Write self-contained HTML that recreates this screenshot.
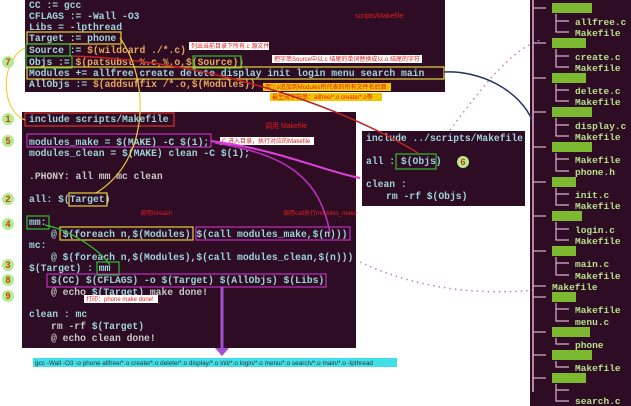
<!DOCTYPE html>
<html><head><meta charset="utf-8"><style>
body{margin:0;background:#fff;width:631px;height:406px;overflow:hidden}
svg{display:block}
.c{font-family:"Liberation Mono",monospace;font-size:9.7px;fill:#9fd3dc;font-weight:bold}
.o{fill:#e8a85a}
.g{fill:#c8c8c8}
.t{font-family:"Liberation Mono",monospace;font-size:9.5px;fill:#b8e08a;font-weight:bold}
.r{font-family:"Liberation Sans","Noto Sans CJK SC",sans-serif;font-size:6px;fill:#e02020}
.n{font-family:"Liberation Sans",sans-serif;font-size:9px;font-weight:bold;fill:#c04010;text-anchor:middle}
</style></head><body>
<svg width="631" height="406" viewBox="0 0 631 406">
<rect x="25" y="0" width="420" height="92" fill="#2e0c24"/>
<rect x="22" y="112" width="334" height="236" fill="#2e0c24"/>
<rect x="362" y="131" width="163" height="75" fill="#2e0c24"/>
<rect x="530" y="0" width="101" height="406" fill="#2e0c24"/>
<g class="c">
<text x="29" y="8">CC := gcc</text>
<text x="29" y="19">CFLAGS := -Wall -O3</text>
<text x="29" y="30">Libs = -lpthread</text>
<text x="29" y="41">Target := phone</text>
<text x="29" y="53">Source := <tspan class="o">$(wildcard ./*.c)</tspan></text>
<text x="29" y="65">Objs := <tspan class="o">$(patsubst %.c,%.o,$(Source))</tspan></text>
<text x="29" y="76">Modules += allfree create delete display init login menu  search   main</text>
<text x="29" y="87">AllObjs := <tspan class="o">$(addsuffix /*.o,$(Modules))</tspan></text>
</g>
<text x="355" y="18" class="r" style="font-size:7px">scripts/Makefile</text>
<rect x="189" y="42" width="80" height="8" fill="#fff"/><text x="191" y="48" class="r">列出当前目录下所有.c 源文件</text>
<rect x="272" y="55" width="150" height="8" fill="#fff"/><text x="274" y="61" class="r">把字串Source中以.c 结尾的单词替换成以.o 结尾的字符</text>
<rect x="263" y="83" width="128" height="8" fill="#f5c400"/><text x="265" y="89" class="r">用"/.o追加到Modules所代表的所有文件名后面</text>
<rect x="270" y="93" width="112" height="8" fill="#f5c400"/><text x="272" y="99" class="r">最生成字符串：allfree/*.o create/*.o等</text>
<rect x="27" y="32" width="94" height="12" fill="none" stroke="#e8d040" stroke-width="1.2"/>
<rect x="26" y="44" width="44" height="12" fill="none" stroke="#30c030" stroke-width="1.2"/>
<rect x="26" y="56" width="46" height="12" fill="none" stroke="#30c030" stroke-width="1.2"/>
<rect x="193" y="56" width="48" height="12" fill="none" stroke="#30c030" stroke-width="1.2"/>
<rect x="27" y="67" width="417" height="12" fill="none" stroke="#e8d040" stroke-width="1.2"/>
<g class="c">
<text x="29" y="122">include scripts/Makefile</text>
<text x="29" y="145">modules_make = $(MAKE) -C $(1);</text>
<text x="29" y="156">modules_clean = $(MAKE) clean -C $(1);</text>
<text x="29" y="179" class="g">.PHONY: all mm mc clean</text>
<text x="29" y="202">all: $(Target)</text>
<text x="29" y="225">mm:</text>
<text x="51" y="237">@ $(foreach n,$(Modules) $(call modules_make,$(n)))</text>
<text x="29" y="248">mc:</text>
<text x="51" y="260">@ $(foreach n,$(Modules),$(call modules_clean,$(n)))</text>
<text x="29" y="271">$(Target) : mm</text>
<text x="51" y="283">$(CC) $(CFLAGS) -o $(Target) $(AllObjs) $(Libs)</text>
<text x="51" y="295" class="g">@ echo <tspan fill="#9fd3dc">$(Target)</tspan> make done!</text>
<text x="29" y="317">clean : mc</text>
<text x="51" y="329" class="g">rm -rf <tspan fill="#9fd3dc">$(Target)</tspan></text>
<text x="51" y="341" class="g">@ echo clean done!</text>
</g>
<text x="265" y="128" class="r" style="font-size:7px">调用 Makefile</text>
<rect x="220" y="137" width="94" height="8" fill="#fff"/><text x="222" y="143" class="r">C 进入目录，执行对应的Makefile</text>
<text x="140" y="215" class="r">调用foreach</text><text x="283" y="215" class="r">调用call执行modules_make</text>
<rect x="84" y="295" width="74" height="8" fill="#fff"/><text x="86" y="301" class="r">打印：phone make done!</text>
<rect x="25" y="113" width="149" height="13" fill="none" stroke="#e03030" stroke-width="1.2"/>
<rect x="27" y="134" width="184" height="13" fill="none" stroke="#c030c0" stroke-width="1.2"/>
<rect x="69" y="193" width="38" height="13" fill="none" stroke="#e8d040" stroke-width="1.2"/>
<rect x="27" y="216" width="22" height="13" fill="none" stroke="#30c030" stroke-width="1.2"/>
<rect x="60" y="227" width="133" height="13" fill="none" stroke="#e8d040" stroke-width="1.2"/>
<rect x="196" y="227" width="154" height="13" fill="none" stroke="#c030c0" stroke-width="1.2"/>
<rect x="97" y="262" width="22" height="13" fill="none" stroke="#30c030" stroke-width="1.2"/>
<rect x="47" y="274" width="279" height="13" fill="none" stroke="#c030c0" stroke-width="1.2"/>
<g class="c">
<text x="366" y="141">include ../scripts/Makefile</text>
<text x="366" y="164">all : $(Objs)</text>
<text x="366" y="187">clean :</text>
<text x="386" y="199">rm -rf $(Objs)</text>
</g>
<rect x="396" y="154" width="40" height="15" fill="none" stroke="#30c030" stroke-width="1.2"/>
<rect x="33" y="358" width="364" height="9" fill="#40e0e8"/>
<text x="35" y="365" style="font-family:'Liberation Sans',sans-serif;font-size:6.4px;fill:#333">gcc -Wall -O3 -o phone allfree/*.o create/*.o delete/*.o display/*.o init/*.o login/*.o menu/*.o search/*.o main/*.o -lpthread</text>
<path d="M222 287 L222 350" stroke="#a050d0" stroke-width="3"/>
<path d="M215 348 L229 348 L222 356Z" fill="#a050d0"/>
<path d="M211 141 C280 150 320 170 360 178" stroke="#e040e0" stroke-width="2" fill="none"/>
<path d="M330 233 C320 180 290 155 215 143" stroke="#c030c0" stroke-width="1.5" fill="none"/>
<path d="M72 56 C200 60 330 100 418 153" stroke="#c02020" stroke-width="1.5" fill="none"/>
<path d="M120 38 C150 80 150 160 96 193" stroke="#e8d040" stroke-width="1.2" fill="none"/>
<path d="M25 48 C0 60 0 110 25 120" stroke="#e8d040" stroke-width="1.2" fill="none"/>
<path d="M45 225 C70 230 100 250 110 265" stroke="#30c030" stroke-width="1.2" fill="none"/>
<path d="M444 72 C480 70 520 90 533 122" stroke="#203060" stroke-width="1.5" fill="none"/>
<path d="M450 130 C480 90 510 50 540 40" stroke="#c080c0" stroke-width="1.5" stroke-dasharray="1.5 4" fill="none"/>
<path d="M360 262 C420 290 480 295 535 290" stroke="#c080c0" stroke-width="1.5" stroke-dasharray="1.5 4" fill="none"/>
<g>
<circle cx="8" cy="62" r="6" fill="#b8e890"/><text x="8" y="65" class="n">7</text>
<circle cx="8" cy="119" r="6" fill="#b8e890"/><text x="8" y="122" class="n">1</text>
<circle cx="8" cy="141" r="6" fill="#b8e890"/><text x="8" y="144" class="n">5</text>
<circle cx="8" cy="199" r="6" fill="#b8e890"/><text x="8" y="202" class="n">2</text>
<circle cx="8" cy="224" r="6" fill="#b8e890"/><text x="8" y="227" class="n">4</text>
<circle cx="8" cy="265" r="6" fill="#b8e890"/><text x="8" y="268" class="n">3</text>
<circle cx="8" cy="280" r="6" fill="#b8e890"/><text x="8" y="283" class="n">8</text>
<circle cx="8" cy="296" r="6" fill="#b8e890"/><text x="8" y="299" class="n">9</text>
<circle cx="463" cy="162" r="6" fill="#b8e890"/><text x="463" y="165" class="n">6</text>
</g>
<line x1="533" y1="0" x2="533" y2="392" stroke="#e0b0d0" stroke-width="1.5"/>
<g stroke="#e0b0d0" stroke-width="1.2" fill="none">
<line x1="533" y1="8" x2="546" y2="8"/><line x1="533" y1="43" x2="546" y2="43"/><line x1="533" y1="78" x2="546" y2="78"/><line x1="533" y1="112" x2="546" y2="112"/><line x1="533" y1="147" x2="546" y2="147"/><line x1="533" y1="182" x2="546" y2="182"/><line x1="533" y1="216" x2="546" y2="216"/><line x1="533" y1="251" x2="546" y2="251"/><line x1="533" y1="286" x2="546" y2="286"/><line x1="533" y1="297" x2="546" y2="297"/><line x1="533" y1="332" x2="546" y2="332"/><line x1="533" y1="355" x2="546" y2="355"/><line x1="533" y1="378" x2="546" y2="378"/>
<path d="M556 14V32H569M556 21H569"/><path d="M556 49V67H569M556 56H569"/><path d="M556 84V101H569M556 90H569"/><path d="M556 118V136H569M556 125H569"/><path d="M556 153V171H569M556 159H569"/><path d="M556 188V205H569M556 194H569"/><path d="M556 222V240H569M556 229H569"/><path d="M556 257V275H569M556 263H569"/><path d="M556 303V321H569M556 309H569"/><path d="M556 338V344H569"/><path d="M556 361V367H569"/><path d="M556 384V401H569M556 390H569"/>
</g>
<g fill="#7cb830">
<rect x="552" y="3" width="40" height="10"/><rect x="552" y="38" width="34" height="10"/><rect x="552" y="73" width="34" height="10"/><rect x="552" y="107" width="40" height="10"/><rect x="552" y="142" width="40" height="10"/><rect x="552" y="177" width="24" height="10"/><rect x="552" y="211" width="30" height="10"/><rect x="552" y="246" width="24" height="10"/><rect x="552" y="292" width="24" height="10"/><rect x="552" y="327" width="38" height="10"/><rect x="552" y="350" width="40" height="10"/><rect x="552" y="373" width="34" height="10"/>
</g>
<g class="t">
<text x="575" y="25">allfree.c</text><text x="575" y="36">Makefile</text>
<text x="575" y="60">create.c</text><text x="575" y="71">Makefile</text>
<text x="575" y="94">delete.c</text><text x="575" y="105">Makefile</text>
<text x="575" y="129">display.c</text><text x="575" y="140">Makefile</text>
<text x="575" y="163">Makefile</text><text x="575" y="175">phone.h</text>
<text x="575" y="198">init.c</text><text x="575" y="209">Makefile</text>
<text x="575" y="233">login.c</text><text x="575" y="244">Makefile</text>
<text x="575" y="267">main.c</text><text x="575" y="279">Makefile</text>
<text x="552" y="290">Makefile</text>
<text x="575" y="313">Makefile</text><text x="575" y="325">menu.c</text>
<text x="575" y="348">phone</text>
<text x="575" y="371">Makefile</text>
<text x="575" y="404">search.c</text>
</g>
</svg>
</body></html>
